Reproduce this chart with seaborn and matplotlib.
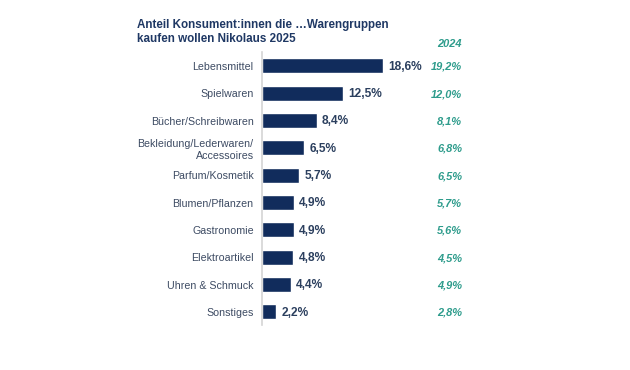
import matplotlib
matplotlib.use("Agg")
import matplotlib.pyplot as plt
import matplotlib.transforms as mtransforms
import seaborn as sns
import pandas as pd

categories = ["Lebensmittel", "Spielwaren", "Bücher/Schreibwaren",
              "Bekleidung/Lederwaren/\nAccessoires", "Parfum/Kosmetik",
              "Blumen/Pflanzen", "Gastronomie", "Elektroartikel",
              "Uhren & Schmuck", "Sonstiges"]
values_2025 = [18.6, 12.5, 8.4, 6.5, 5.7, 4.9, 4.9, 4.8, 4.4, 2.2]
values_2024 = [19.2, 12.0, 8.1, 6.8, 6.5, 5.7, 5.6, 4.5, 4.9, 2.8]

df = pd.DataFrame({"cat": categories, "v25": values_2025, "v24": values_2024})

sns.set_style("white")
plt.rcParams["font.family"] = ["Liberation Sans", "DejaVu Sans"]

navy = "#112c5c"
label_col = "#3d4b63"
teal = "#2e9c8c"

fig = plt.figure(figsize=(6.3, 3.7), dpi=100)
ax = fig.add_axes([262/630, 45/370, 195/630, 273/370])

sns.barplot(data=df, x="v25", y="cat", color=navy, width=0.55, ax=ax, saturation=1)

ax.set_xlim(0, 30)
ax.set_ylim(9.48, -0.51)
ax.set_xlabel("")
ax.set_ylabel("")
ax.set_xticks([])
ax.tick_params(axis="y", length=0, pad=6, labelsize=7.7, labelcolor=label_col)
for s in ["top", "right", "bottom"]:
    ax.spines[s].set_visible(False)
ax.spines["left"].set_color("#d4d4d4")
ax.spines["left"].set_linewidth(1.2)

# 2025 values next to the bars
for i, v in enumerate(values_2025):
    ax.text(v + 0.8, i + 0.03, f"{v:.1f}%".replace(".", ","), va="center", ha="left",
            fontsize=8.6, fontweight="bold", color="#2b3f5e")

# 2024 comparison column
trans = mtransforms.blended_transform_factory(fig.transFigure, ax.transData)
for i, v in enumerate(values_2024):
    ax.text(462/630, i + 0.03, f"{v:.1f}%".replace(".", ","), transform=trans,
            va="center", ha="right", fontsize=7.9, fontstyle="italic",
            fontweight="bold", color=teal)
fig.text(462/630, 1 - 44/370, "2024", ha="right", va="center", fontsize=7.9,
         fontstyle="italic", fontweight="bold", color=teal)

fig.text(137/630, 1 - 32/370, "Anteil Konsument:innen die …Warengruppen\nkaufen wollen Nikolaus 2025",
         ha="left", va="center", fontsize=8.4, fontweight="bold", color="#1f3864",
         linespacing=1.3)

fig.savefig("out.png", dpi=100)
